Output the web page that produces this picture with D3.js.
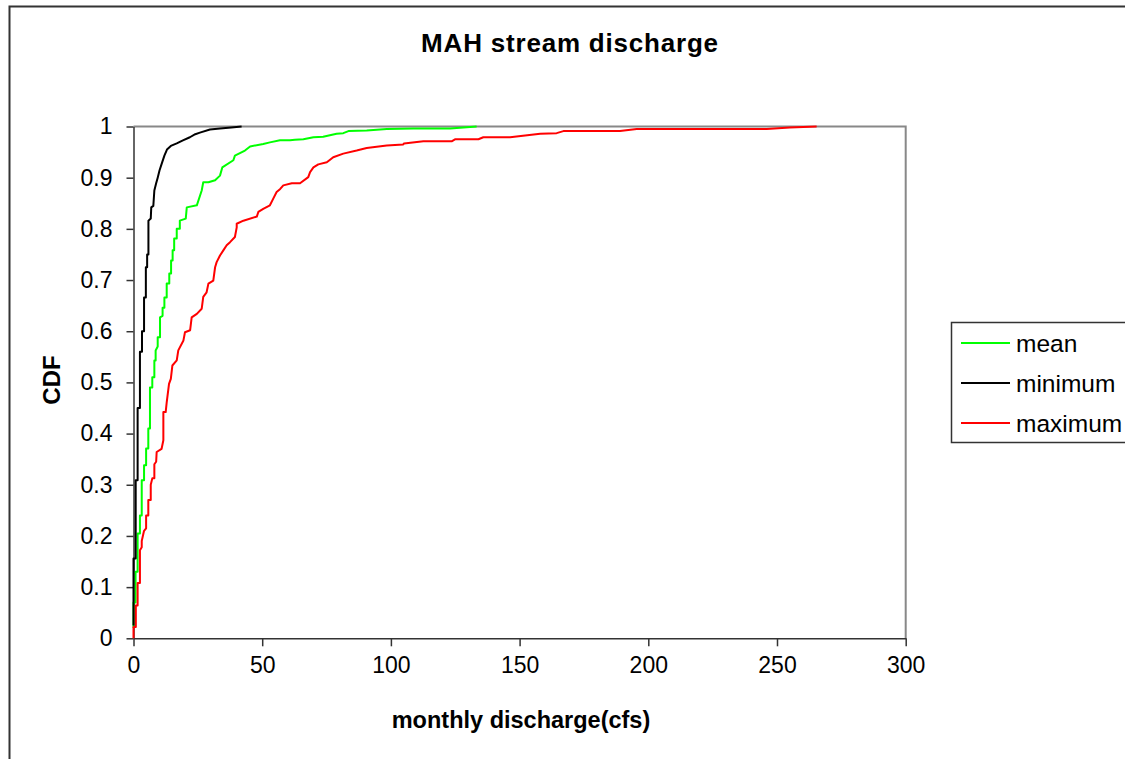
<!DOCTYPE html>
<html>
<head>
<meta charset="utf-8">
<script src="https://cdn.jsdelivr.net/npm/d3@7.9.0/dist/d3.min.js"></script>
<style>
  html, body { margin: 0; padding: 0; background: #fff; overflow: hidden; }
  svg { display: block; font-family: "Liberation Sans", Arial, sans-serif; }
  .axis path, .axis line { stroke: #333; stroke-width: 1.5px; }
  .axis text { font-size: 23px; fill: #000; }
</style>
</head>
<body>
<svg id="chart" width="1125" height="759"></svg>
<script>
const title = 'MAH stream discharge';
const xTitle = 'monthly discharge(cfs)';
const yTitle = 'CDF';

const xTicks = [0, 50, 100, 150, 200, 250, 300];
const yTicks = [0, 0.1, 0.2, 0.3, 0.4, 0.5, 0.6, 0.7, 0.8, 0.9, 1];

const seriesNames = ['mean', 'minimum', 'maximum'];
const seriesColors = ['#00ff00', '#000000', '#ff0000'];

// mean discharge
const meanX = [0, 0, 0.8, 0.8, 1.6, 1.6, 2.5, 2.5, 3.2, 3.2, 4.1, 4.1, 4.9, 4.9, 5.75, 5.75, 6.4, 6.4,
  7.3, 7.3, 8.1, 8.1, 8.6, 8.6, 9.4, 9.4, 10.3, 10.3, 11.3, 11.3, 12, 12, 12.9, 12.9, 13.9, 13.9,
  14.6, 14.6, 15.2, 15.2, 15.8, 15.8, 16.8, 16.8, 18, 18, 20.3, 20.7, 24.6, 26.5, 27.1, 29.1, 31.7,
  33.6, 34.5, 38.8, 39.4, 43.3, 45.3, 50.4, 53, 56.9, 60.8, 62.7, 66, 69.9, 73.7, 78.9, 81.5, 83.5,
  90.6, 98.4, 108.7, 123, 133.3];
const meanCdf = [0.02, 0.07, 0.07, 0.13, 0.13, 0.205, 0.205, 0.24, 0.24, 0.309, 0.309, 0.338, 0.338,
  0.371, 0.371, 0.41, 0.41, 0.49, 0.49, 0.51, 0.51, 0.543, 0.543, 0.5625, 0.57, 0.588, 0.588, 0.627,
  0.63, 0.646, 0.646, 0.666, 0.666, 0.693, 0.693, 0.713, 0.713, 0.738, 0.738, 0.758, 0.758, 0.781,
  0.781, 0.8, 0.8, 0.816, 0.82, 0.842, 0.846, 0.875, 0.891, 0.891, 0.895, 0.904, 0.92, 0.934, 0.943,
  0.953, 0.961, 0.966, 0.969, 0.973, 0.973, 0.974, 0.975, 0.979, 0.98, 0.986, 0.987, 0.991, 0.992,
  0.995, 0.996, 0.996, 1];

// minimum discharge
const minX = [0, 0, 0.85, 0.85, 1.6, 1.6, 2.5, 2.5, 3.3, 3.3, 4.1, 4.1, 4.8, 4.8, 5.3, 5.3, 5.8, 5.8,
  6.7, 6.9, 7.7, 8.1, 8.8, 9.4, 10.1, 11, 12, 13, 14.5, 16.8, 19.2, 21.9, 24, 25.8, 29.7, 33.6, 38, 42];
const minCdf = [0.025, 0.156, 0.156, 0.309, 0.309, 0.45, 0.45, 0.56, 0.56, 0.6, 0.6, 0.666, 0.666,
  0.725, 0.725, 0.75, 0.75, 0.816, 0.82, 0.842, 0.845, 0.875, 0.889, 0.9, 0.914, 0.928, 0.943, 0.955,
  0.962, 0.967, 0.973, 0.979, 0.985, 0.988, 0.994, 0.996, 0.998, 1];

// maximum discharge
const maxX = [0, 0, 0.9, 0.9, 1.6, 1.6, 2.5, 2.5, 3.2, 3.2, 4.1, 4.9, 4.9, 5.75, 5.75, 6.7, 6.7, 7.3,
  8.1, 8.1, 8.8, 9, 10.9, 11.6, 11.6, 12.5, 12.9, 13.8, 14.5, 15.1, 16.8, 17.4, 19.4, 20, 22, 22.6,
  24.6, 26.5, 27.1, 28.4, 29.1, 31, 31.7, 32.3, 33.6, 34.9, 36.2, 37.5, 39.4, 40.1, 40.1, 42.7, 47.9,
  48.5, 50.4, 53, 54.3, 55.6, 57, 58.2, 61.5, 64.7, 67.9, 68.6, 69.9, 71.8, 75.1, 77.6, 81.5, 86.7,
  90.6, 98.4, 104.8, 105.1, 112.6, 123.6, 124.9, 134, 135.9, 146.3, 158, 164.4, 167, 173.5, 189,
  195.5, 225.3, 246, 255, 265.4];
const maxCdf = [0, 0.022, 0.022, 0.064, 0.064, 0.108, 0.108, 0.172, 0.178, 0.19, 0.21, 0.215, 0.24,
  0.24, 0.27, 0.27, 0.3, 0.3125, 0.3125, 0.34, 0.345, 0.364, 0.37, 0.387, 0.442, 0.442, 0.461, 0.497,
  0.507, 0.533, 0.543, 0.5625, 0.582, 0.598, 0.602, 0.627, 0.634, 0.644, 0.667, 0.676, 0.693, 0.699,
  0.725, 0.735, 0.748, 0.758, 0.768, 0.774, 0.784, 0.803, 0.81, 0.816, 0.824, 0.833, 0.839, 0.846,
  0.859, 0.872, 0.878, 0.885, 0.889, 0.889, 0.901, 0.911, 0.92, 0.926, 0.93, 0.94, 0.947, 0.953,
  0.958, 0.963, 0.965, 0.967, 0.971, 0.971, 0.975, 0.975, 0.979, 0.979, 0.986, 0.987, 0.991, 0.991,
  0.991, 0.995, 0.995, 0.995, 0.998, 1];

const svg = d3.select('#chart');

const plot = { left: 133.5, right: 905.7, top: 126.5, bottom: 638.3 };

const x = d3.scaleLinear().domain([0, 300]).range([plot.left, plot.right]);
const y = d3.scaleLinear().domain([0, 1]).range([plot.bottom, plot.top]);

// outer chart frame (runs past the right and bottom edges)
svg.append('path')
  .attr('d', 'M9.5,770 V6.5 H1140')
  .attr('fill', 'none')
  .attr('stroke', '#333')
  .attr('stroke-width', 2);

// plot area frame top / right
svg.append('path')
  .attr('d', `M${plot.left},${plot.top} H${plot.right} V${plot.bottom}`)
  .attr('fill', 'none')
  .attr('stroke', '#888')
  .attr('stroke-width', 2);

svg.append('g')
  .attr('class', 'axis')
  .attr('transform', `translate(0,${plot.bottom})`)
  .call(d3.axisBottom(x).tickValues(xTicks).tickSize(8).tickSizeOuter(0).tickPadding(10));

svg.append('g')
  .attr('class', 'axis')
  .attr('transform', `translate(${plot.left},0)`)
  .call(d3.axisLeft(y).tickValues(yTicks).tickSize(7).tickSizeOuter(0).tickPadding(14)
    .tickFormat(d => String(+d.toFixed(1))));

const line = d3.line()
  .x(d => x(d[0]))
  .y(d => y(d[1]));

const series = [
  d3.zip(meanX, meanCdf),
  d3.zip(minX, minCdf),
  d3.zip(maxX, maxCdf)
];

svg.append('g')
  .selectAll('path')
  .data(series)
  .enter()
  .append('path')
  .attr('d', line)
  .attr('fill', 'none')
  .attr('stroke', (_, i) => seriesColors[i])
  .attr('stroke-width', 2)
  .attr('stroke-linejoin', 'round');

// titles
svg.append('text')
  .attr('x', 570)
  .attr('y', 52)
  .attr('text-anchor', 'middle')
  .attr('font-size', 26)
  .attr('font-weight', 'bold')
  .attr('letter-spacing', 0.8)
  .text(title);

svg.append('text')
  .attr('x', 521)
  .attr('y', 728)
  .attr('text-anchor', 'middle')
  .attr('font-size', 23.5)
  .attr('font-weight', 'bold')
  .text(xTitle);

svg.append('text')
  .attr('transform', 'translate(60,380) rotate(-90)')
  .attr('text-anchor', 'middle')
  .attr('font-size', 24)
  .attr('font-weight', 'bold')
  .text(yTitle);

// legend
const legend = svg.append('g');
legend.append('rect')
  .attr('x', 951.5)
  .attr('y', 322.5)
  .attr('width', 200)
  .attr('height', 120)
  .attr('fill', '#fff')
  .attr('stroke', '#333')
  .attr('stroke-width', 1.5);

const items = legend.selectAll('g.item')
  .data(seriesNames)
  .enter()
  .append('g')
  .attr('class', 'item')
  .attr('transform', (_, i) => `translate(0,${343 + i * 40})`);

items.append('line')
  .attr('x1', 961).attr('x2', 1010)
  .attr('y1', 0).attr('y2', 0)
  .attr('stroke', (_, i) => seriesColors[i])
  .attr('stroke-width', 2);

items.append('text')
  .attr('x', 1016)
  .attr('y', 8.5)
  .attr('font-size', 24.5)
  .text(d => d);
</script>
</body>
</html>
